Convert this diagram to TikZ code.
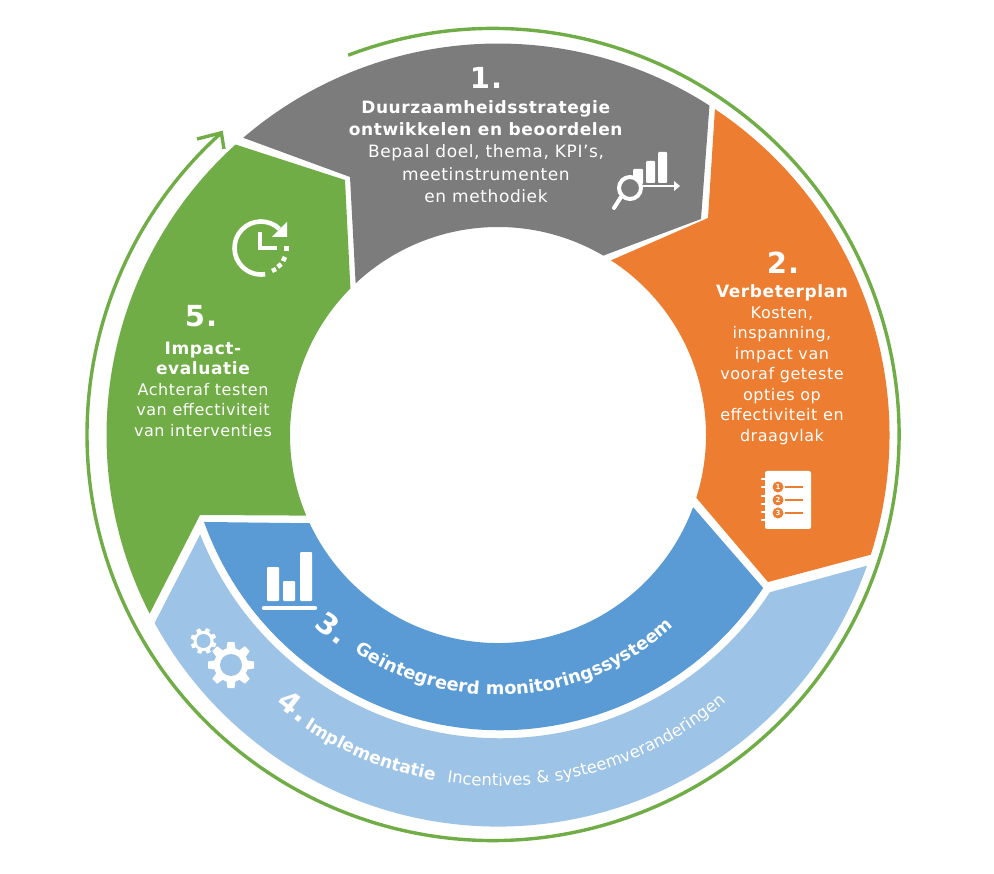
\documentclass[tikz,border=0pt]{standalone}
\usepackage{fontspec}
\setmainfont[LetterSpace=3.5]{DejaVu Sans}
\usetikzlibrary{calc,decorations.text}
\definecolor{segGray}{HTML}{7C7C7C}
\definecolor{segOrange}{HTML}{ED7D31}
\definecolor{segBlue}{HTML}{5B9BD5}
\definecolor{segLight}{HTML}{9DC3E6}
\definecolor{segGreen}{HTML}{70AD47}
\tikzset{
  bignum/.style={text=white,font=\bfseries\fontsize{29}{32}\selectfont,inner sep=0pt},
  gray block/.style={text=white,align=center,inner sep=0pt,font=\fontsize{17}{22.4}\selectfont},
  side block/.style={text=white,align=center,inner sep=0pt,font=\fontsize{16}{20.5}\selectfont},
  ring line/.style={draw=segGreen,line width=3.4pt},
  icon bar/.style={fill=white,rounded corners=1pt},
}
% Bold heading line inside a side block
\newcommand{\sidehead}[1]{{\bfseries\fontsize{17}{20.5}\selectfont #1}}
% A gear: body disc, teeth around it, and a hole in the given colour
\newcommand{\gearicon}[6]{%
  \fill[white] (#1,#2) circle[radius=#4 pt];
  \foreach \t in {1,...,8}{
    \fill[white,shift={(#1,#2)},rotate=\t*45+#6]
      (#4-1,-#3*0.2) -- (#3,-#3*0.15) -- (#3,#3*0.15) -- (#4-1,#3*0.2) -- cycle;
  }
  \fill[segLight] (#1,#2) circle[radius=#5 pt];
}
\begin{document}
\begin{tikzpicture}[x=1pt,y=1pt,yscale=-1]
\useasboundingbox (0,0) rectangle (994,874);
\coordinate (O) at (498,435);
\coordinate (B) at (500,415.7);
\coordinate (Rc) at (493,434.5);

% Segment 1
\fill[segGray] ($(O)+(229.4:391.5)$) arc[start angle=229.4,end angle=302.7,radius=391.5pt]
  -- (701,219) -- ($(O)+(300.4:208)$) arc[start angle=300.4,end angle=226.8,radius=208pt]
  -- (350,177) -- cycle;
% Segment 2
\fill[segOrange] ($(O)+(303.65:391.5)$) arc[start angle=303.65,end angle=377.8,radius=391.5pt]
  -- (768,582) -- ($(O)+(17.56:208)$) arc[start angle=17.56,end angle=-57.1,radius=208pt]
  -- (708,218) -- cycle;
% Segment 4, under segment 3
\fill[segLight] ($(B)+(158.4:322.5)$) arc[start angle=158.4,end angle=33.2,radius=322.5pt]
  -- ($(O)+(19.5:391.5)$) arc[start angle=19.5,end angle=151.3,radius=391.5pt] -- cycle;
% Segment 3
\fill[segBlue] ($(B)+(160.25:314.5)$) arc[start angle=160.25,end angle=33.2,radius=314.5pt]
  -- ($(O)+(20.3:208)$) arc[start angle=20.3,end angle=154.9,radius=208pt] -- cycle;
% Segment 5
\fill[segGreen] ($(O)+(152.85:391.5)$) arc[start angle=152.85,end angle=227.9,radius=391.5pt]
  -- (345,180) -- ($(O)+(224.8:208)$) arc[start angle=224.8,end angle=157.2,radius=208pt]
  -- (200,515) -- cycle;

% Outer cycle arrow
\draw[ring line] ($(Rc)+(249.1:406)$) arc[start angle=249.1,end angle=588,radius=406pt];
\coordinate (tip) at ($(Rc)+(228:406)$);
\coordinate (barbA) at (197,139);
\coordinate (barbB) at (224,149);
\draw[ring line] (barbA) -- (tip) -- (barbB);

% Segment texts
\node[bignum] (n1) at (486,78) {1.};
\node[gray block] (t1) at (486,151.5) {\textbf{Duurzaamheidsstrategie}\\\textbf{ontwikkelen en beoordelen}\\Bepaal doel, thema, KPI’s,\\meetinstrumenten\\en methodiek};
\node[bignum] (n2) at (783,263) {2.};
\node[side block] (t2) at (782,364.5) {\sidehead{Verbeterplan}\\Kosten,\\inspanning,\\impact van\\vooraf geteste\\opties op\\effectiviteit en\\draagvlak};
\node[bignum] (n5) at (201,316) {5.};
\node[side block] (t5) at (203,389) {\sidehead{Impact-}\\\sidehead{evaluatie}\\Achteraf testen\\van effectiviteit\\van interventies};
\node[bignum,rotate=-38] (n3) at (333,628) {3.};
\node[bignum,rotate=-38] (n4) at (295,706) {4.};

% Curved texts
\path[decorate,decoration={text along path,text align=center,
  text={|\bfseries\color{white}\fontsize{17.8}{20}\selectfont|Geïntegreerd monitoringssysteem}}]
  ($(O)+(124:260)$) arc[start angle=124,end angle=47,radius=260pt];
\path[decorate,decoration={text along path,text align=center,
  text={|\bfseries\color{white}\fontsize{17.2}{20}\selectfont|Implementatie |\color{white}\fontsize{16.5}{20}\selectfont| Incentives {\&} systeemveranderingen}}]
  ($(O)+(124:351)$) arc[start angle=124,end angle=49,radius=351pt];

% Icon: chart with magnifier
\fill[icon bar] (633,169) rectangle (643,184);
\fill[icon bar] (646,161) rectangle (655,183);
\fill[icon bar] (658,152) rectangle (667,183);
\draw[white,line width=2.4pt] (640,186) -- (675,186);
\fill[white] (674,181) -- (680,186) -- (674,191) -- cycle;
\draw[white,line width=4pt,fill=segGray] (630,188) circle[radius=11pt];
\draw[white,line width=4pt,line cap=round] (621,197) -- (614,208);

% Icon: numbered notebook
\fill[white,rounded corners=2pt] (765,471) rectangle (811,529);
\foreach \y in {479,487,496,504,512,520}
  \draw[white,line width=2.6pt,line cap=round] (762,\y) -- (766,\y);
\foreach \y/\d in {487/1,500/2,513/3}{
  \fill[segOrange] (778,\y) circle[radius=5.5pt];
  \node[text=white,inner sep=0pt,font=\bfseries\fontsize{7}{8}\selectfont] (num\d) at (778,\y) {\d};
  \draw[segOrange,line width=1.5pt] (785,\y) -- (803,\y);
}

% Icon: bar chart
\fill[icon bar] (267,567) rectangle (279,601);
\fill[icon bar] (283,581) rectangle (295,601);
\fill[icon bar] (300,552) rectangle (312,601);
\draw[white,line width=4.4pt,line cap=round] (264,608) -- (315,608);

% Icon: gears
\gearicon{231}{665}{23}{17}{11}{0}
\gearicon{203.5}{641}{13}{10}{7}{20}

% Icon: clock with return arrow
\draw[white,line width=4.6pt] ($(261,248)+(314:26.5)$) arc[start angle=314,delta angle=-233,radius=26.5pt];
\fill[white] (287,222) -- (287,237) -- (272,237) -- cycle;
\draw[white,line width=4pt] (260,232) -- (260,248) -- (277,248);
\fill[white] (284,246) rectangle (289,251);
\fill[white,rotate around={25:(284,259)}] (281.7,256.7) rectangle (286.3,261.3);
\fill[white,rotate around={50:(279.5,265.5)}] (277.2,263.2) rectangle (281.8,267.8);
\fill[white,rotate around={65:(274,270)}] (271.8,267.8) rectangle (276.2,272.2);
\end{tikzpicture}
\end{document}
